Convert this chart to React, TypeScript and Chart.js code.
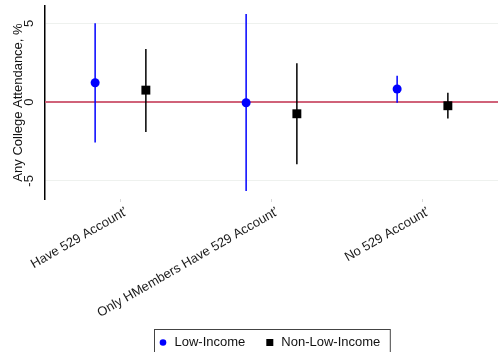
import React, { useEffect, useRef } from 'react';
import { Chart, registerables } from 'chart.js';

Chart.register(...registerables);

// Groups along the x axis
const categories = ['Have 529 Account’', 'Only HMembers Have 529 Account’', 'No 529 Account’'];

// Low-income estimates with their confidence bounds
const lowIncomeEst = [1.23, -0.04, 0.83];
const lowIncomeLo = [-2.56, -5.64, -0.04];
const lowIncomeHi = [5.0, 5.59, 1.67];

// Non-low-income estimates with their confidence bounds
const nonLowEst = [0.76, -0.74, -0.23];
const nonLowLo = [-1.89, -3.94, -1.04];
const nonLowHi = [3.37, 2.46, 0.59];

const yTicks = [-5, 0, 5];
const yMin = -6.15;
const yMax = 6.1;

// horizontal shift of each series inside its group, in category units
const groupShift = 0.168;

const FONT = '"Liberation Sans", Arial, Helvetica, sans-serif';

const errorBarPlugin = {
  id: 'errorBars',
  beforeDatasetsDraw(chart: any) {
    const { ctx, chartArea, scales } = chart;
    const x = scales.x;
    const y = scales.y;
    // reference line at zero
    ctx.save();
    ctx.strokeStyle = '#d06279';
    ctx.lineWidth = 2;
    const y0 = y.getPixelForValue(0);
    ctx.beginPath();
    ctx.moveTo(chartArea.left, y0);
    ctx.lineTo(chartArea.right, y0);
    ctx.stroke();
    // vertical interval for every point
    chart.data.datasets.forEach((ds: any) => {
      ctx.strokeStyle = ds.barColor;
      ctx.lineWidth = 1.5;
      ds.data.forEach((p: any, i: number) => {
        const px = x.getPixelForValue(p.x);
        ctx.beginPath();
        ctx.moveTo(px, y.getPixelForValue(ds.lo[i]));
        ctx.lineTo(px, y.getPixelForValue(ds.hi[i]));
        ctx.stroke();
      });
    });
    ctx.restore();
  },
};

const boxedLegendPlugin = {
  id: 'boxedLegend',
  afterDraw(chart: any) {
    const { ctx, chartArea } = chart;
    ctx.save();
    ctx.font = `13px ${FONT}`;
    ctx.textBaseline = 'middle';
    const marker = 7;
    const markerGap = 8;
    const itemGap = 21;
    const padL = 5;
    const padR = 10;
    const items = chart.data.datasets.map((ds: any) => ({
      label: ds.label,
      color: ds.backgroundColor,
      style: ds.pointStyle,
      w: ctx.measureText(ds.label).width,
    }));
    let total = padL + padR;
    items.forEach((it: any, i: number) => {
      total += marker + markerGap + it.w + (i < items.length - 1 ? itemGap : 0);
    });
    const cx = (chartArea.left + chartArea.right) / 2;
    const left = Math.round(cx - total / 2) + 0.5;
    const top = 329.5;
    const h = 27;
    ctx.strokeStyle = '#444';
    ctx.lineWidth = 1;
    ctx.strokeRect(left, top, total, h);
    const cy = top + 13;
    let xPos = left + padL;
    items.forEach((it: any) => {
      ctx.fillStyle = it.color;
      if (it.style === 'circle') {
        ctx.beginPath();
        ctx.arc(xPos + marker / 2, cy, 3.3, 0, Math.PI * 2);
        ctx.fill();
      } else {
        ctx.fillRect(xPos, cy - marker / 2, marker, marker);
      }
      xPos += marker + markerGap;
      ctx.fillStyle = '#111';
      ctx.fillText(it.label, xPos, cy);
      xPos += it.w + itemGap;
    });
    ctx.restore();
  },
};

export default function App() {
  const canvasRef = useRef<HTMLCanvasElement | null>(null);

  useEffect(() => {
    const canvas = canvasRef.current;
    if (!canvas) return;
    const chart = new Chart(canvas, {
      type: 'scatter',
      data: {
        datasets: [
          {
            label: 'Low-Income',
            data: lowIncomeEst.map((v, i) => ({ x: i - groupShift, y: v })),
            lo: lowIncomeLo,
            hi: lowIncomeHi,
            barColor: '#0000ff',
            backgroundColor: '#0000ff',
            borderWidth: 0,
            pointStyle: 'circle',
            pointRadius: 4.5,
          } as any,
          {
            label: 'Non-Low-Income',
            data: nonLowEst.map((v, i) => ({ x: i + groupShift, y: v })),
            lo: nonLowLo,
            hi: nonLowHi,
            barColor: '#000000',
            backgroundColor: '#000000',
            borderWidth: 0,
            pointStyle: 'rect',
            pointRadius: 6.3,
          } as any,
        ],
      },
      options: {
        animation: false,
        responsive: false,
        layout: { autoPadding: false, padding: { left: 0, right: 0, top: 6, bottom: 0 } },
        plugins: {
          legend: { display: false },
          tooltip: { enabled: false },
        },
        scales: {
          x: {
            type: 'linear',
            min: -0.5,
            max: 2.5,
            afterBuildTicks: (s: any) => {
              s.ticks = categories.map((_, i) => ({ value: i }));
            },
            afterFit: (s: any) => {
              s.height = 153;
              s.paddingLeft = 0;
              s.paddingRight = 0;
            },
            border: { display: false },
            grid: { drawOnChartArea: false, drawTicks: true, tickLength: 3, color: '#d8d8d8' },
            ticks: {
              autoSkip: false,
              minRotation: 30,
              maxRotation: 30,
              padding: 2,
              labelOffset: 6,
              color: '#1a1a1a',
              font: { family: FONT, size: 13 },
              callback: (v: any) => categories[v] ?? '',
            },
          },
          y: {
            type: 'linear',
            min: yMin,
            max: yMax,
            afterBuildTicks: (s: any) => {
              s.ticks = yTicks.map((v) => ({ value: v }));
            },
            afterFit: (s: any) => {
              s.width = 45;
              s.paddingTop = 0;
              s.paddingBottom = 0;
            },
            border: { display: true, color: '#000', width: 1.5 },
            grid: { color: '#eef1ee', lineWidth: 1, drawTicks: false },
            ticks: {
              minRotation: 90,
              maxRotation: 90,
              crossAlign: 'center',
              padding: 10,
              color: '#1a1a1a',
              font: { family: FONT, size: 13 },
            },
            title: {
              display: true,
              text: 'Any College Attendance, %',
              color: '#111',
              font: { family: FONT, size: 13 },
              padding: { top: 11, bottom: 0 },
            },
          },
        },
      } as any,
      plugins: [errorBarPlugin, boxedLegendPlugin],
    });
    return () => chart.destroy();
  }, []);

  return (
    <div style={{ position: 'fixed', left: 0, top: 0, width: 498, height: 352, background: '#fff' }}>
      <canvas ref={canvasRef} width={498} height={352} style={{ display: 'block' }} />
    </div>
  );
}
